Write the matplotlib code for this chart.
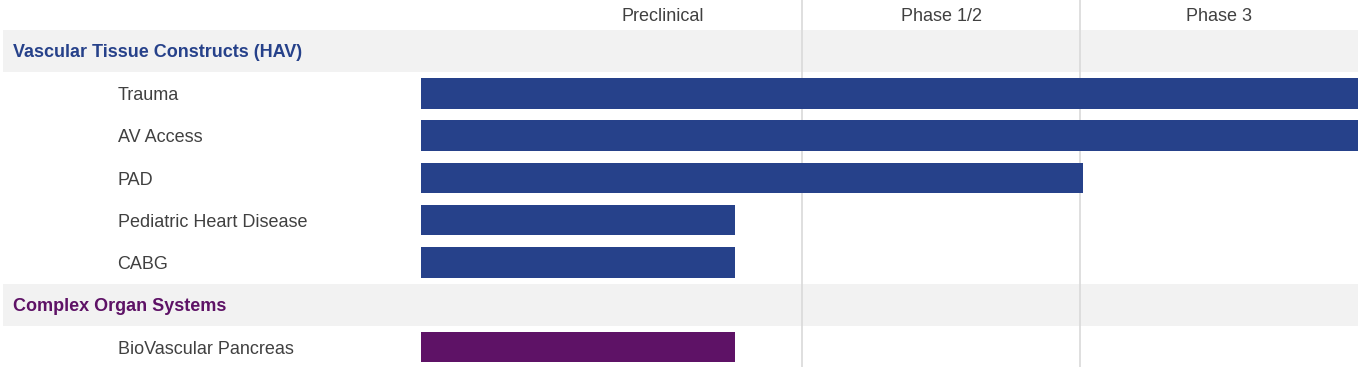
import matplotlib
matplotlib.use("Agg")
import matplotlib.pyplot as plt

plt.rcParams['font.family'] = ['Liberation Sans', 'DejaVu Sans']

# phase columns (x in phase units: 0 = start of Preclinical column)
phases = ["Preclinical", "Phase 1/2", "Phase 3"]

# rows, top to bottom: group headers and programs
groups = ["Vascular Tissue Constructs (HAV)", "Complex Organ Systems"]
group_colors = ["#26418a", "#5e1266"]
programs = ["Trauma", "AV Access", "PAD", "Pediatric Heart Disease", "CABG",
            "BioVascular Pancreas"]
program_group = [0, 0, 0, 0, 0, 1]
bar_start = -0.37
bar_end = [3.0, 3.0, 2.01, 0.76, 0.76, 0.76]

fig = plt.figure(figsize=(13.62, 3.67), dpi=100)
ax = fig.add_axes([0, 0, 1, 1])
ax.set_xlim(-1.885, 3.014)
ax.set_ylim(7.47, -1.206)
ax.axis('off')

# build row list
rows = []
for g in range(len(groups)):
    rows.append(('g', g))
    for i, pg in enumerate(program_group):
        if pg == g:
            rows.append(('p', i))

for r, (kind, idx) in enumerate(rows):
    if kind == 'g':
        ax.barh(r, 3.0 + 1.874, left=-1.874, height=0.99, color='#f2f2f2', zorder=1)
        ax.text(-1.838, r + 0.03, groups[idx], color=group_colors[idx], fontsize=13,
                fontweight='bold', va='center', ha='left', zorder=4)
    else:
        ax.barh(r, bar_end[idx] - bar_start, left=bar_start, height=0.72,
                color=group_colors[program_group[idx]], zorder=3)
        ax.text(-1.462, r + 0.05, programs[idx], color='#404040', fontsize=13,
                va='center', ha='left', zorder=4)

for k in range(1, len(phases)):
    ax.axvline(k, color='#d9d9d9', linewidth=1.2, zorder=2)

for k, ph in enumerate(phases):
    ax.text(k + 0.5, -0.82, ph, color='#404040', fontsize=13, ha='center',
            va='center')

fig.savefig("out.png", dpi=100)
